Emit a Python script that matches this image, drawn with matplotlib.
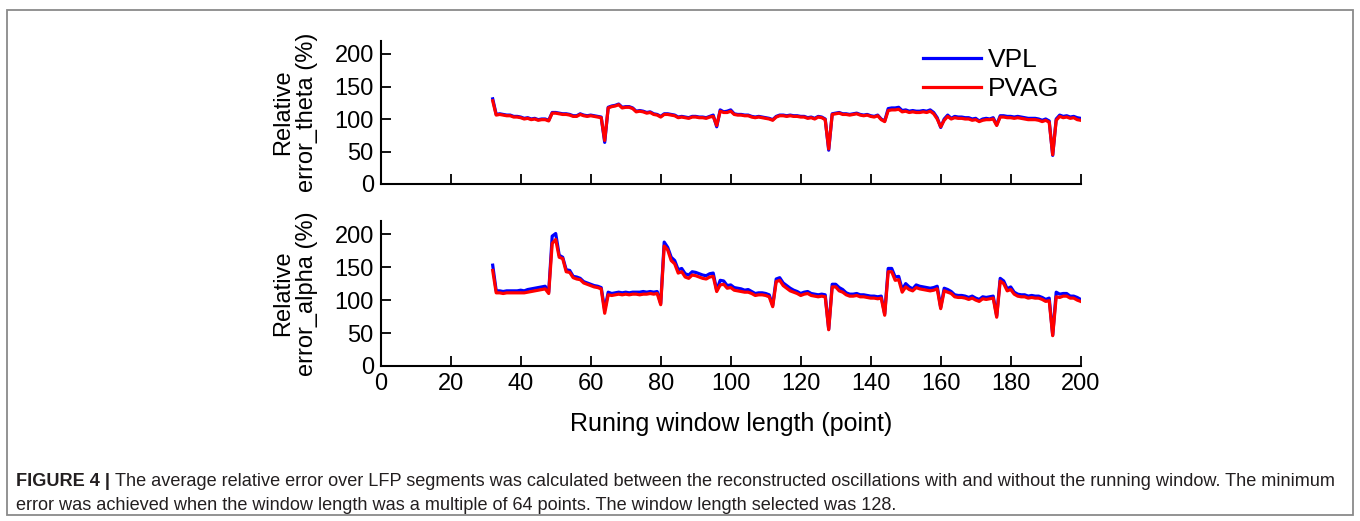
import matplotlib
matplotlib.use("Agg")
import matplotlib.pyplot as plt
from matplotlib.patches import Rectangle

plt.rcParams['font.family'] = ['Liberation Sans', 'DejaVu Sans']

# window length (points), 32..200
window = list(range(32, 201))

theta_vpl = [131, 107, 108, 107, 106, 106, 104, 104,
             103, 101, 102, 100, 101, 99, 100, 100, 98, 110,
             110, 109, 108, 108, 107, 105, 105, 108, 106, 105,
             106, 105, 104, 103, 64, 118, 120, 121, 123, 118,
             119, 119, 117, 112, 113, 112, 110, 111, 108, 107,
             104, 108, 108, 107, 106, 103, 104, 103, 102, 104,
             104, 103, 103, 102, 104, 106, 88, 114, 111, 112,
             114, 108, 107, 107, 106, 106, 104, 103, 104, 103,
             102, 101, 99, 104, 106, 106, 105, 106, 105, 105,
             104, 104, 102, 103, 101, 104, 103, 100, 52, 108,
             109, 110, 108, 108, 107, 108, 109, 107, 106, 107,
             105, 104, 106, 100, 97, 116, 117, 117, 118, 113,
             114, 112, 113, 112, 112, 113, 112, 114, 110, 102,
             87, 100, 106, 101, 104, 103, 103, 102, 102, 100,
             101, 97, 100, 101, 100, 102, 91, 105, 105, 104,
             104, 103, 104, 103, 102, 101, 101, 101, 100, 98,
             100, 97, 44, 100, 106, 104, 105, 103, 104, 102, 101]

theta_pvag = [128, 106, 107, 106, 105, 105, 103, 103,
              102, 100, 101, 99, 100, 98, 99, 99, 97, 109,
              109, 108, 107, 107, 106, 104, 104, 107, 105, 104,
              105, 104, 103, 102, 67, 117, 119, 120, 122, 117,
              118, 118, 116, 111, 112, 111, 109, 110, 107, 106,
              103, 107, 107, 106, 105, 102, 103, 102, 101, 103,
              103, 102, 102, 101, 103, 104, 90, 112, 110, 110,
              112, 107, 106, 106, 105, 105, 103, 102, 103, 102,
              101, 100, 98, 103, 105, 105, 104, 105, 104, 104,
              103, 103, 101, 102, 100, 103, 102, 99, 54, 107,
              108, 109, 107, 107, 106, 107, 108, 106, 105, 106,
              104, 103, 105, 99, 96, 113, 114, 114, 115, 111,
              112, 110, 111, 110, 110, 111, 110, 112, 108, 100,
              88, 98, 104, 100, 102, 101, 101, 100, 100, 98,
              99, 96, 98, 99, 99, 100, 90, 103, 103, 102,
              102, 101, 102, 101, 100, 99, 99, 99, 98, 96,
              98, 95, 45, 98, 104, 102, 103, 101, 102, 99, 98]

alpha_vpl = [153, 114, 114, 113, 114, 114, 114, 114,
             115, 114, 116, 117, 118, 119, 120, 121, 112, 197,
             201, 168, 165, 146, 145, 136, 135, 133, 128, 126,
             124, 122, 121, 119, 85, 112, 110, 111, 112, 111,
             112, 111, 112, 112, 112, 113, 112, 113, 112, 113,
             95, 188, 180, 165, 160, 146, 148, 140, 138, 143,
             142, 140, 138, 137, 140, 141, 115, 130, 129, 122,
             123, 119, 118, 117, 115, 116, 113, 110, 111, 111,
             110, 108, 92, 132, 134, 126, 122, 118, 115, 113,
             110, 112, 113, 110, 109, 108, 109, 108, 56, 124,
             124, 119, 116, 111, 109, 109, 110, 108, 108, 107,
             106, 106, 105, 106, 79, 148, 148, 135, 136, 116,
             125, 120, 117, 123, 121, 120, 119, 118, 119, 121,
             89, 118, 116, 113, 108, 107, 107, 106, 104, 106,
             103, 101, 105, 104, 105, 106, 76, 133, 129, 117,
             120, 112, 109, 108, 108, 106, 107, 106, 106, 104,
             101, 103, 47, 112, 109, 110, 110, 106, 106, 104, 101]

alpha_pvag = [145, 111, 111, 110, 111, 111, 111, 111,
              111, 111, 112, 113, 114, 115, 116, 117, 110, 186,
              192, 165, 163, 143, 142, 134, 132, 131, 126, 124,
              122, 120, 119, 117, 80, 108, 107, 108, 109, 108,
              109, 108, 109, 109, 108, 109, 109, 110, 109, 110,
              93, 182, 176, 160, 155, 141, 143, 135, 133, 138,
              137, 135, 133, 132, 135, 136, 113, 123, 124, 118,
              119, 115, 114, 113, 112, 112, 110, 107, 108, 108,
              107, 105, 90, 128, 130, 122, 118, 114, 112, 110,
              107, 109, 110, 107, 106, 105, 106, 105, 55, 120,
              120, 114, 112, 108, 106, 106, 107, 105, 105, 104,
              103, 103, 102, 103, 77, 143, 143, 130, 131, 112,
              120, 116, 114, 119, 117, 116, 115, 114, 115, 117,
              87, 114, 112, 110, 105, 104, 104, 103, 101, 103,
              100, 98, 102, 101, 102, 103, 74, 129, 125, 114,
              116, 109, 106, 105, 105, 103, 104, 103, 103, 101,
              98, 99, 46, 105, 104, 106, 106, 103, 103, 100, 98]

ylabels = ['Relative\nerror_theta (%)', 'Relative\nerror_alpha (%)']
series_names = ['VPL', 'PVAG']
caption_head = 'FIGURE 4 |'
caption_1 = ('The average relative error over LFP segments was calculated between the reconstructed '
             'oscillations with and without the running window. The minimum')
caption_2 = 'error was achieved when the window length was a multiple of 64 points. The window length selected was 128.'

W, H = 1360, 521
fig = plt.figure(figsize=(W / 100, H / 100), dpi=100)


def px_axes(x0, x1, ytop, ybot):
    return fig.add_axes([x0 / W, 1 - ybot / H, (x1 - x0) / W, (ybot - ytop) / H])


ax1 = px_axes(380.7, 1080.7, 41, 184)
ax2 = px_axes(380.7, 1080.7, 221, 366)

panels = [(ax1, theta_vpl, theta_pvag), (ax2, alpha_vpl, alpha_pvag)]
for i, (ax, vpl, pvag) in enumerate(panels):
    ax.plot(window, vpl, color='#0000ff', lw=2.3, label=series_names[0])
    ax.plot(window, pvag, color='#ff0000', lw=2.3, label=series_names[1])
    ax.set_xlim(0, 200)
    ax.set_ylim(0, 220)
    ax.set_xticks(range(0, 201, 20))
    ax.set_yticks(range(0, 201, 50))
    for s in ['top', 'right']:
        ax.spines[s].set_visible(False)
    for s in ['left', 'bottom']:
        ax.spines[s].set_linewidth(1.5)
    ax.tick_params(direction='in', length=7, width=1.3, labelsize=17, pad=5)
    ax.set_ylabel(ylabels[i], fontsize=17, labelpad=12, linespacing=1.1)
    ax.patch.set_alpha(0)

ax1.tick_params(axis='x', labelbottom=False)
ax2.set_xlabel('Runing window length (point)', fontsize=18, labelpad=12)

ax1.legend(loc='upper left', bbox_to_anchor=(910 / W, 1 - 35 / H),
           bbox_transform=fig.transFigure, frameon=False, fontsize=19,
           handlelength=2.2, handletextpad=0.25, labelspacing=0.2, borderpad=0)

# outer frame of the figure box
fig.add_artist(Rectangle((7 / W, 1 - 515 / H), (1353 - 7) / W, (515 - 10) / H,
                         transform=fig.transFigure, fill=False, ec='#8a8a8a', lw=1.3))

# caption
renderer = fig.canvas.get_renderer()
cap_font = ['Liberation Sans Narrow', 'Liberation Sans', 'DejaVu Sans']
fs = 12
head = fig.text(16 / W, 1 - 482 / H, caption_head, fontsize=fs, fontweight='bold',
                family=cap_font, va='center', color='#231f20')
hb = head.get_window_extent(renderer)
body1 = fig.text((hb.x1 + 5) / W, 1 - 482 / H, caption_1, fontsize=fs,
                 family=cap_font, va='center', color='#231f20')
b1 = body1.get_window_extent(renderer)
scale = (1340 - 16) / (b1.x1 - hb.x0)
fs = fs * scale
head.set_fontsize(fs)
hb = head.get_window_extent(renderer)
body1.set_fontsize(fs)
body1.set_x((hb.x1 + 5) / W)
fig.text(16 / W, 1 - 506 / H, caption_2, fontsize=fs, family=cap_font,
         va='center', color='#231f20')

fig.savefig('out.png', dpi=100)
